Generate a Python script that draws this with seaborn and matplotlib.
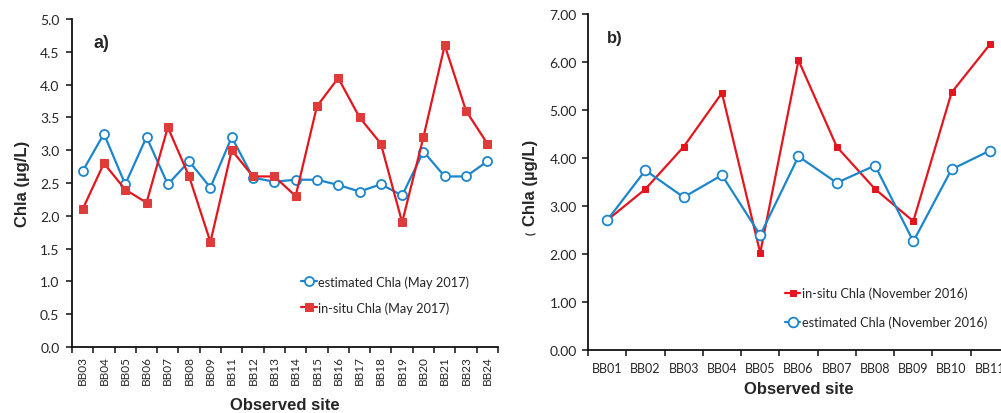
import numpy as np
import pandas as pd
import matplotlib
matplotlib.use("Agg")
import matplotlib.pyplot as plt
import seaborn as sns
from matplotlib.ticker import FixedLocator, MultipleLocator, FormatStrFormatter

sns.set_theme(style="ticks")
plt.rcParams["font.family"] = ["Lato", "DejaVu Sans"]

# Panel a: May 2017 survey
sites_may = ["BB03", "BB04", "BB05", "BB06", "BB07", "BB08", "BB09", "BB11", "BB12", "BB13",
             "BB14", "BB15", "BB16", "BB17", "BB18", "BB19", "BB20", "BB21", "BB23", "BB24"]
est_may = [2.68, 3.25, 2.48, 3.20, 2.48, 2.83, 2.43, 3.20, 2.58, 2.52,
           2.55, 2.55, 2.47, 2.37, 2.48, 2.31, 2.98, 2.60, 2.60, 2.83]
insitu_may = [2.1, 2.8, 2.4, 2.2, 3.35, 2.6, 1.6, 3.0, 2.6, 2.6,
              2.3, 3.67, 4.1, 3.5, 3.1, 1.9, 3.2, 4.6, 3.6, 3.1]

# Panel b: November 2016 survey
sites_nov = ["BB01", "BB02", "BB03", "BB04", "BB05", "BB06", "BB07", "BB08", "BB09", "BB10", "BB11"]
insitu_nov = [2.70, 3.35, 4.23, 5.35, 2.02, 6.03, 4.23, 3.35, 2.68, 5.36, 6.36]
est_nov = [2.70, 3.74, 3.18, 3.64, 2.39, 4.03, 3.48, 3.84, 2.26, 3.76, 4.15]

RED = "#E3161E"
RED_MK = "#DE3B3B"
BLUE = "#1C86CC"

df_may = pd.DataFrame({"site": sites_may, "est": est_may, "insitu": insitu_may})
df_nov = pd.DataFrame({"site": sites_nov, "est": est_nov, "insitu": insitu_nov})

fig = plt.figure(figsize=(10.01, 4.14), dpi=100)
ax1 = fig.add_axes([0.0719, 0.1594, 0.4256, 0.7923])
ax2 = fig.add_axes([0.5874, 0.1522, 0.4206, 0.8123])

label_font = dict(family=["Liberation Sans", "DejaVu Sans"], fontweight="bold", fontsize=12)

# ---- panel a ----
sns.lineplot(data=df_may, x="site", y="est", ax=ax1, sort=False, color=BLUE, lw=1.6,
             marker="o", markersize=6.5, markerfacecolor="white", markeredgecolor=BLUE,
             markeredgewidth=1.3, label="estimated Chla (May 2017)", zorder=3)
sns.lineplot(data=df_may, x="site", y="insitu", ax=ax1, sort=False, color=RED, lw=1.6,
             marker="s", markersize=5.5, markerfacecolor=RED_MK, markeredgecolor=RED_MK,
             label="in-situ Chla (May 2017)", zorder=4)
n1 = len(sites_may)
ax1.set_xlim(-0.5, n1 - 0.5)
ax1.set_ylim(0, 5.0)
ax1.yaxis.set_major_locator(MultipleLocator(0.5))
ax1.yaxis.set_major_formatter(FormatStrFormatter("%.1f"))
ax1.set_xticks(range(n1))
ax1.set_xticklabels(sites_may, rotation=90, fontsize=8.5)
ax1.xaxis.set_minor_locator(FixedLocator(np.arange(-0.5, n1, 1.0)))
ax1.tick_params(axis="x", which="major", length=0, pad=6)
ax1.tick_params(axis="x", which="minor", length=4, width=1.2, color="#222222")
ax1.tick_params(axis="y", labelsize=10, length=4, width=1.2, color="#222222", pad=5)
ax1.set_xlabel("Observed site", labelpad=9, **label_font)
ax1.set_ylabel("Chla (µg/L)", labelpad=7, **label_font)
ax1.text(0.05, 0.915, "a)", transform=ax1.transAxes, fontsize=13, fontweight="bold",
         family=["Liberation Sans", "DejaVu Sans"])
ax1.legend(loc="upper left", bbox_to_anchor=(0.296, 0.345), bbox_transform=fig.transFigure,
           frameon=False, fontsize=9.2, handlelength=1.2, handletextpad=0.1,
           labelspacing=1.05, borderaxespad=0)

# ---- panel b ----
sns.lineplot(data=df_nov, x="site", y="insitu", ax=ax2, sort=False, color=RED, lw=1.6,
             marker="s", markersize=4.5, markerfacecolor=RED, markeredgecolor=RED,
             label="in-situ Chla (November 2016)", zorder=3)
sns.lineplot(data=df_nov, x="site", y="est", ax=ax2, sort=False, color=BLUE, lw=1.6,
             marker="o", markersize=7, markerfacecolor="white", markeredgecolor=BLUE,
             markeredgewidth=1.3, label="estimated Chla (November 2016)", zorder=4)
n2 = len(sites_nov)
ax2.set_xlim(-0.5, n2 - 0.5)
ax2.set_ylim(0, 7.0)
ax2.yaxis.set_major_locator(MultipleLocator(1.0))
ax2.yaxis.set_major_formatter(FormatStrFormatter("%.2f"))
ax2.set_xticks(range(n2))
ax2.set_xticklabels(sites_nov, fontsize=9)
ax2.xaxis.set_minor_locator(FixedLocator(np.arange(-0.5, n2, 1.0)))
ax2.tick_params(axis="x", which="major", length=0, pad=9)
ax2.tick_params(axis="x", which="minor", length=4, width=1.2, color="#222222")
ax2.tick_params(axis="y", labelsize=10, length=4, width=1.2, color="#222222", pad=4)
ax2.set_xlabel("Observed site", labelpad=5, **label_font)
ax2.set_ylabel("Chla (µg/L)", labelpad=8, **label_font)
ax2.text(-0.138, 0.35, "(", transform=ax2.transAxes, fontsize=8, rotation=90,
         ha="center", va="center", fontweight="bold")
ax2.text(0.045, 0.915, "b)", transform=ax2.transAxes, fontsize=12, fontweight="bold",
         family=["Liberation Sans", "DejaVu Sans"])
ax2.legend(loc="upper left", bbox_to_anchor=(0.779, 0.318), bbox_transform=fig.transFigure,
           frameon=False, fontsize=9.2, handlelength=1.2, handletextpad=0.1,
           labelspacing=1.3, borderaxespad=0)

for ax in (ax1, ax2):
    sns.despine(ax=ax)
    for s in ("left", "bottom"):
        ax.spines[s].set_linewidth(1.3)
        ax.spines[s].set_color("#111111")
    ax.grid(False)

fig.savefig("out.png", dpi=100)
